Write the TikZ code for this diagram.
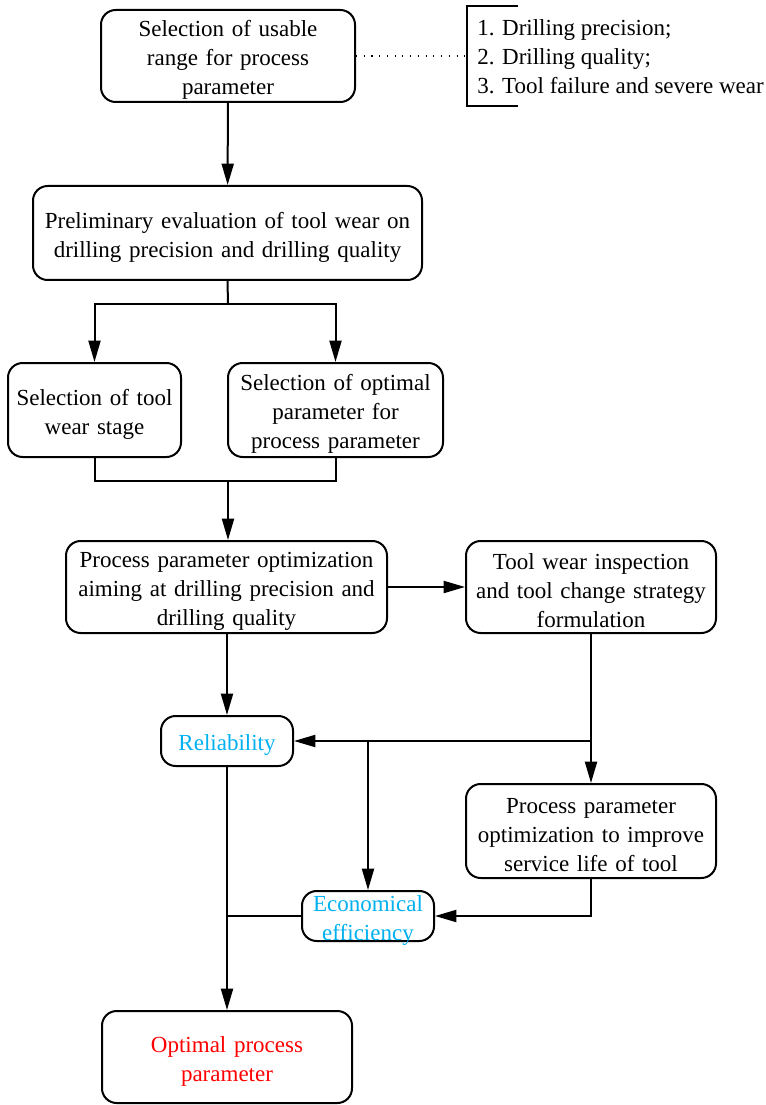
\documentclass[tikz,border=0pt]{standalone}
\usepackage{fontspec}
\setmainfont{Liberation Serif}
\usetikzlibrary{arrows.meta}
\definecolor{cyantext}{RGB}{0,176,240}
\begin{document}
\begin{tikzpicture}[x=0.75pt,y=-0.75pt,
  box/.style={draw,line width=1.5pt,rounded corners=11pt,align=center,inner sep=0pt,
    font=\fontsize{17.25pt}{21.75pt}\selectfont,execute at begin node={\rule{0pt}{18pt}}},
  conn/.style={line width=1.5pt},
  arr/.style={line width=1.5pt,-{Triangle[length=16pt,width=9pt]}}]
\useasboundingbox (0,0) rectangle (766,1105);
\node[box,minimum width=190.5pt,minimum height=69pt,text width=186pt] (b1) at (228,56) {Selection of usable\\range for process\\parameter};
\node[box,minimum width=291.75pt,minimum height=70.5pt,text width=288pt] (b2) at (227.5,233) {Preliminary evaluation of tool wear on\\drilling precision and drilling quality};
\node[box,minimum width=129.75pt,minimum height=70.5pt,text width=126pt] (b3) at (94.5,410) {Selection of tool\\wear stage};
\node[box,minimum width=161.25pt,minimum height=70.5pt,text width=157pt] (b4) at (335.5,410) {Selection of optimal\\parameter for\\process parameter};
\node[box,minimum width=240.75pt,minimum height=69pt,text width=236pt] (b5) at (226.5,587) {Process parameter optimization\\aiming at drilling precision and\\drilling quality};
\node[box,minimum width=187.5pt,minimum height=69pt,text width=184pt] (b6) at (591,587) {Tool wear inspection\\and tool change strategy\\formulation};
\node[box,minimum width=99pt,minimum height=37.5pt,text width=96pt,text=cyantext] (rel) at (227,741) {Reliability};
\node[box,minimum width=187.5pt,minimum height=70.5pt,text width=184pt] (b8) at (591,831) {Process parameter\\optimization to improve\\service life of tool};
\node[box,minimum width=99pt,minimum height=37.5pt,text width=96pt,inner ysep=-3.3pt,text=cyantext] (eco) at (368,916) {Economical\\efficiency};
\node[box,minimum width=187.5pt,minimum height=69pt,text width=184pt,text=red] (opt) at (227,1057) {Optimal process\\parameter};
% list with bracket
\node[anchor=west,align=left,inner sep=0pt,font=\fontsize{17.25pt}{21.75pt}\selectfont] (list) at (477,57) {1. Drilling precision;\\2. Drilling quality;\\3. Tool failure and severe wear};
\coordinate (bt) at (518,6);
\coordinate (bl) at (467,56);
\coordinate (bb) at (518,106);
\draw[line width=1pt] (bt) -- (467,6) -- (467,106) -- (bb);
\draw[line width=0.8pt,dash pattern=on 0.8pt off 5pt] (b1.east) -- (bl);
% connectors
\draw[arr] (b1) -- (b2);
\coordinate (s1) at (228,304);
\draw[conn] (b2.south) -- (s1);
\draw[arr] (s1) -| (b3.north);
\draw[arr] (s1) -| (b4.north);
\coordinate (s2) at (228,481);
\draw[conn] (b3.south) |- (s2);
\draw[conn] (b4.south) |- (s2);
\draw[arr] (s2) -- (b5.north -| s2);
\draw[arr] (b5.east) -- (b6.west);
\draw[arr] (b5.south -| rel.north) -- (rel.north);
\coordinate (j1) at (591,741);
\coordinate (j2) at (368,741);
\draw[arr] (b6) -- (b8);
\draw[arr] (j1) -- (rel.east);
\draw[arr] (j2) -- (eco.north);
\draw[arr] (b8.south) |- (eco.east);
\draw[arr] (rel.south) -- (opt.north);
\coordinate (j3) at (227,916);
\draw[conn] (eco.west) -- (j3);
\end{tikzpicture}
\end{document}
